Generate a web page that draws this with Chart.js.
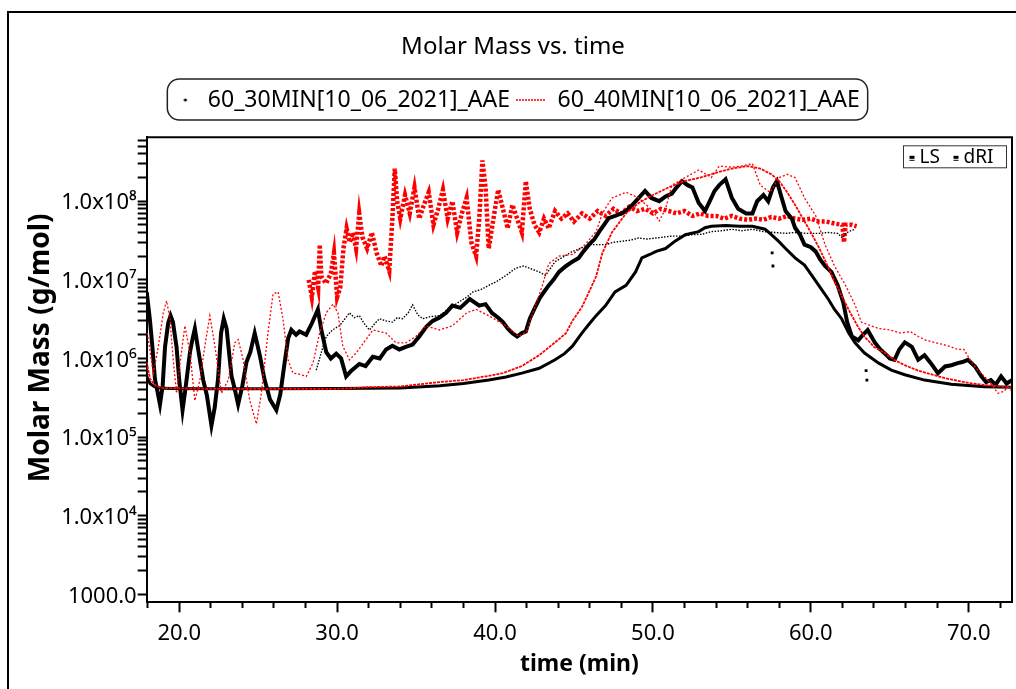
<!DOCTYPE html>
<html><head><meta charset="utf-8">
<script src="https://cdn.jsdelivr.net/npm/chart.js@4"></script>
<style>
html,body{margin:0;padding:0;background:#fff;}
canvas{display:block;}
</style></head><body>
<canvas id="c" width="1016" height="689"></canvas>
<script>
// ---------------- data ----------------
const chartTitle = 'Molar Mass vs. time';
const seriesNames = ['60_30MIN[10_06_2021]_AAE', '60_40MIN[10_06_2021]_AAE'];
const detectorNames = ['LS', 'dRI'];
const xTitle = 'time (min)';
const yTitle = 'Molar Mass (g/mol)';

const xMajorTicks = [20, 30, 40, 50, 60, 70];
const xTickLabels = ['20.0', '30.0', '40.0', '50.0', '60.0', '70.0'];
const xMinorTicks = [18, 22, 24, 26, 28, 32, 34, 36, 38, 42, 44, 46, 48, 52, 54, 56, 58, 62, 64, 66, 68, 72];
const yMajorTicks = [1e3, 1e4, 1e5, 1e6, 1e7, 1e8];
const yTickLabels = ['1000.0', '1.0x10\u2074', '1.0x10\u2075', '1.0x10\u2076', '1.0x10\u2077', '1.0x10\u2078'];
const yMinorMultipliers = [2, 3, 4, 5, 6, 7, 8, 9];

// 60_30MIN : LS (noisy, thick)
const bk30Ls = [[17.94,7.0e6],[18.05,4.5e6],[18.15,3.0e6],[18.3,1.4e6],[18.46,5.5e5],[18.62,3.8e5],[18.78,2.6e5],[18.95,4.5e5],[19.1,1.4e6],[19.3,2.8e6],[19.45,3.5e6],[19.6,2.9e6],[19.83,1.4e6],[20.0,5.3e5],[20.21,2.2e5],[20.4,4.2e5],[20.68,1.2e6],[20.85,1.8e6],[20.99,2.4e6],[21.2,1.3e6],[21.52,5.3e5],[21.75,3.4e5],[22.04,1.4e5],[22.25,2.4e5],[22.46,5.5e5],[22.65,2.1e6],[22.82,3.2e6],[23.0,2.4e6],[23.31,6.0e5],[23.5,4.2e5],[23.73,2.6e5],[24.0,4.5e5],[24.26,9.0e5],[24.5,1.2e6],[24.78,2.1e6],[25.1,1.1e6],[25.41,5.3e5],[25.75,3.0e5],[26.15,2.2e5],[26.4,3.5e5],[26.68,9.0e5],[26.9,1.8e6],[27.1,2.3e6],[27.4,2.0e6],[27.62,2.2e6],[28.04,2.0e6],[28.4,2.8e6],[28.78,4.2e6],[29.0,2.3e6],[29.31,1.2e6],[29.6,1.0e6],[29.94,1.15e6],[30.25,1.0e6],[30.57,5.9e5],[30.9,7.0e5],[31.41,8.5e5],[31.8,8.0e5],[32.26,1.05e6],[32.7,1.0e6],[33.1,1.3e6],[33.5,1.45e6],[33.94,1.3e6],[34.35,1.4e6],[34.78,1.5e6],[35.2,1.9e6],[35.63,2.5e6],[36.05,3.0e6],[36.47,3.3e6],[36.9,3.8e6],[37.3,4.7e6],[37.8,4.4e6],[38.4,5.7e6],[39.0,4.7e6],[39.4,4.9e6],[39.8,3.8e6],[40.2,3.3e6],[40.5,2.9e6],[40.8,2.4e6],[41.1,2.1e6],[41.4,1.9e6],[41.7,2.1e6],[41.95,2.2e6],[42.2,3.2e6],[42.5,4.3e6],[42.8,5.7e6],[43.1,7.0e6],[43.4,8.5e6],[43.7,1.0e7],[44.05,1.26e7],[44.5,1.5e7],[44.9,1.7e7],[45.3,1.9e7],[45.6,2.3e7],[45.95,2.8e7],[46.3,3.3e7],[46.6,4.1e7],[46.9,5.0e7],[47.2,6.1e7],[47.6,6.5e7],[48.0,7.0e7],[48.3,7.5e7],[48.7,9.0e7],[49.1,1.1e8],[49.5,1.35e8],[49.9,1.1e8],[50.4,1.0e8],[50.8,1.15e8],[51.2,1.25e8],[51.5,1.5e8],[51.84,1.8e8],[52.2,1.6e8],[52.5,1.5e8],[52.9,9.5e7],[53.3,7.5e7],[53.6,1.0e8],[53.9,1.35e8],[54.2,1.6e8],[54.6,1.9e8],[55.0,1.1e8],[55.4,8.0e7],[55.9,7.0e7],[56.3,7.0e7],[56.6,1.0e8],[57.0,1.2e8],[57.3,1.0e8],[57.6,1.5e8],[57.85,1.8e8],[58.1,1.2e8],[58.4,7.5e7],[58.8,6.0e7],[59.0,4.6e7],[59.3,3.8e7],[59.6,2.8e7],[60.0,2.6e7],[60.3,2.3e7],[60.6,1.8e7],[60.9,1.5e7],[61.3,1.26e7],[61.7,8.5e6],[62.05,5.2e6],[62.3,2.9e6],[62.6,1.9e6],[63.0,1.7e6],[63.3,2.0e6],[63.6,2.3e6],[64.05,1.6e6],[64.4,1.3e6],[64.7,1.15e6],[65.0,1.0e6],[65.3,9.6e5],[65.6,1.3e6],[65.95,1.6e6],[66.4,1.4e6],[66.8,9.6e5],[67.2,1.1e6],[67.6,8.7e5],[68.05,6.5e5],[68.5,7.9e5],[68.9,8.2e5],[69.3,8.7e5],[69.6,9.0e5],[69.95,9.6e5],[70.4,7.9e5],[70.8,5.9e5],[71.1,5.0e5],[71.4,5.3e5],[71.7,4.6e5],[72.05,5.9e5],[72.4,4.8e5],[72.74,5.3e5]];
// 60_30MIN : isolated LS points
const bk30LsStray = [[57.55,2.2e7],[57.6,1.5e7],[63.5,7.0e5],[63.55,5.3e5]];
// 60_30MIN : thin dotted trace
const bk30Thin = [[28.68,7.1e5],[29.0,1.2e6],[29.31,1.9e6],[29.7,2.3e6],[30.15,2.6e6],[30.5,3.2e6],[30.78,3.8e6],[31.1,3.3e6],[31.41,3.5e6],[31.7,2.8e6],[32.05,2.3e6],[32.4,2.8e6],[32.68,3.2e6],[33.1,3.0e6],[33.52,2.9e6],[33.8,3.3e6],[34.15,3.2e6],[34.5,3.8e6],[34.78,4.8e6],[35.1,3.6e6],[35.42,3.2e6],[35.9,3.4e6],[36.47,3.5e6],[37.0,4.2e6],[37.7,5.2e6],[38.2,6.0e6],[38.6,7.0e6],[39.1,7.5e6],[39.6,8.5e6],[40.1,9.5e6],[40.7,1.14e7],[41.3,1.4e7],[41.8,1.5e7],[42.2,1.4e7],[42.8,1.26e7],[43.2,1.14e7],[43.8,1.7e7],[44.4,2.0e7],[44.9,2.3e7],[45.4,2.5e7],[45.95,2.8e7],[46.5,2.8e7],[47.0,2.8e7],[47.5,3.0e7],[48.05,3.1e7],[48.6,3.2e7],[49.1,3.4e7],[49.6,3.3e7],[50.2,3.4e7],[50.7,3.5e7],[51.2,3.6e7],[51.8,3.6e7],[52.5,3.75e7],[53.1,3.8e7],[53.7,4.1e7],[54.3,4.2e7],[55.0,4.4e7],[55.6,4.2e7],[56.3,4.4e7],[57.0,4.1e7],[57.7,4.0e7],[58.4,3.9e7],[59.0,4.0e7],[59.7,3.9e7],[60.5,3.9e7],[61.1,4.0e7],[61.7,3.9e7],[62.0,3.4e7],[62.2,3.9e7],[62.5,4.2e7],[62.8,4.4e7]];
// 60_30MIN : smooth thick trace
const bk30Smooth = [[17.94,5.9e5],[18.15,4.8e5],[18.4,4.4e5],[18.7,4.2e5],[19.5,4.15e5],[22,4.1e5],[26,4.1e5],[30,4.15e5],[34,4.2e5],[36.5,4.5e5],[38,4.8e5],[39.6,5.3e5],[40.7,5.8e5],[41.7,6.5e5],[42.8,7.5e5],[43.8,9.6e5],[44.4,1.15e6],[44.9,1.43e6],[45.5,2.1e6],[46.0,2.8e6],[46.4,3.5e6],[47.0,4.7e6],[47.6,7.0e6],[48.3,8.5e6],[48.9,1.26e7],[49.3,1.9e7],[49.8,2.1e7],[50.2,2.3e7],[50.8,2.5e7],[51.4,3.1e7],[52.05,3.75e7],[52.9,4.1e7],[53.3,4.6e7],[53.7,4.8e7],[54.6,4.9e7],[55.5,4.8e7],[56.3,4.8e7],[57.1,4.4e7],[57.5,3.75e7],[57.95,3.1e7],[58.4,2.5e7],[59.0,1.9e7],[59.6,1.54e7],[60.06,1.14e7],[60.5,8.5e6],[61.1,5.7e6],[61.5,4.2e6],[61.95,3.2e6],[62.4,2.1e6],[62.8,1.58e6],[63.4,1.17e6],[64.3,8.7e5],[65.1,7.1e5],[65.95,6.2e5],[67.2,5.3e5],[68.9,4.7e5],[71.0,4.35e5],[72.74,4.3e5]];

// 60_40MIN : LS (noisy, thick dotted)
const rd40Ls = [[28.2,1.0e7],[28.4,6.0e6],[28.6,1.3e7],[28.8,8.0e6],[28.9,2.8e7],[29.0,1.1e7],[29.3,9.0e6],[29.6,1.2e7],[29.8,2.2e7],[30.0,6.0e6],[30.2,8.0e6],[30.4,2.5e7],[30.6,4.5e7],[30.8,3.0e7],[31.0,4.0e7],[31.2,2.5e7],[31.4,7.0e7],[31.6,3.5e7],[31.9,2.5e7],[32.2,4.0e7],[32.5,2.2e7],[32.8,1.5e7],[33.0,2.0e7],[33.3,1.3e7],[33.5,6.0e7],[33.65,2.6e8],[33.8,1.0e8],[34.0,6.0e7],[34.3,1.2e8],[34.6,7.0e7],[34.9,1.5e8],[35.2,6.0e7],[35.5,9.0e7],[35.8,1.3e8],[36.1,5.0e7],[36.4,8.0e7],[36.7,1.4e8],[37.0,6.0e7],[37.3,1.0e8],[37.6,4.0e7],[37.9,7.0e7],[38.2,1.1e8],[38.5,3.0e7],[38.8,2.0e7],[39.0,6.0e7],[39.2,3.3e8],[39.4,1.5e8],[39.6,2.5e7],[39.9,6.0e7],[40.2,1.4e8],[40.5,8.0e7],[40.8,4.5e7],[41.1,9.0e7],[41.4,6.0e7],[41.7,4.0e7],[41.95,1.8e8],[42.2,8.0e7],[42.5,5.0e7],[42.8,4.0e7],[43.1,6.0e7],[43.4,4.5e7],[43.8,7.5e7],[44.2,6.0e7],[44.6,7.0e7],[45.0,5.5e7],[45.5,7.0e7],[46.0,6.0e7],[46.5,7.5e7],[47.0,6.5e7],[47.5,8.0e7],[48.0,7.0e7],[48.5,8.5e7],[49.0,7.5e7],[49.5,8.0e7],[50.0,7.0e7],[50.5,8.0e7],[51.0,7.5e7],[51.5,7.0e7],[52.0,7.5e7],[52.5,6.5e7],[53.0,7.0e7],[53.5,6.5e7],[54.0,6.5e7],[54.5,6.0e7],[55.0,6.5e7],[55.5,6.0e7],[56.0,5.8e7],[56.5,6.0e7],[57.0,5.8e7],[57.5,6.3e7],[58.0,6.0e7],[58.5,6.5e7],[59.0,6.0e7],[59.5,5.8e7],[60.0,6.0e7],[60.5,5.5e7],[61.0,5.5e7],[61.5,5.2e7],[62.0,5.0e7],[62.1,3.0e7],[62.2,5.0e7],[62.6,5.0e7],[62.9,4.8e7]];
// 60_40MIN : thin wiggly trace
const rd40Wiggle = [[17.98,2.1e6],[18.36,6.5e5],[18.68,1.43e6],[18.99,3.8e6],[19.2,5.4e6],[19.41,3.2e6],[19.62,9.6e5],[19.83,3.6e5],[20.05,8.7e5],[20.36,2.6e6],[20.68,1.17e6],[20.99,2.9e5],[21.31,5.3e5],[21.62,1.43e6],[21.94,3.5e6],[22.26,1.43e6],[22.68,3.6e5],[23.1,5.3e5],[23.52,1.58e6],[23.73,1.74e6],[24.05,9.6e5],[24.47,2.9e5],[24.89,1.47e5],[25.2,3.6e5],[25.62,2.1e6],[25.94,6.6e6],[26.26,7.0e6],[26.57,3.2e6],[26.89,9.6e5],[27.2,6.5e5],[27.62,6.3e5],[28.04,5.9e5],[28.47,8.7e5],[28.89,2.1e6],[29.31,3.8e6],[29.73,4.9e6],[30.05,3.8e6],[30.36,1.43e6],[30.78,9.6e5],[31.2,1.17e6],[31.83,1.74e6],[32.26,2.3e6],[33.1,2.1e6],[33.73,1.58e6],[34.36,1.58e6],[34.99,1.9e6],[35.62,2.6e6],[36.47,2.3e6],[37.3,2.6e6],[38.2,3.8e6],[38.8,4.2e6],[39.6,3.5e6],[40.7,2.6e6],[41.5,1.9e6],[42.0,2.2e6],[42.4,3.8e6],[43.0,8.5e6],[43.4,1.6e7],[44.05,2.0e7],[44.9,2.1e7],[45.7,2.8e7],[46.4,4.1e7],[46.8,7.0e7],[47.4,1.1e8],[48.3,1.3e8],[49.1,1.1e8],[50.0,7.5e7],[50.4,5.6e7],[50.8,8.0e7],[51.2,1.6e8],[52.05,2.0e8],[52.9,2.5e8],[53.7,2.0e8],[54.2,2.8e8],[55.0,2.7e8],[55.6,2.8e8],[56.3,3.0e8],[56.8,1.6e8],[57.4,1.3e8],[58.0,2.0e8],[58.5,2.2e8],[59.0,2.0e8],[59.6,1.1e8],[60.3,6.6e7],[60.9,2.8e7],[61.5,1.5e7],[62.2,8.5e6],[62.8,4.8e6],[63.2,2.9e6],[63.8,2.6e6],[64.3,2.4e6],[65.0,2.3e6],[65.7,2.1e6],[66.3,2.2e6],[66.8,1.9e6],[67.3,1.7e6],[67.8,1.6e6],[68.4,1.5e6],[68.9,1.4e6],[69.3,1.3e6],[69.7,1.3e6],[70.2,8.7e5],[70.6,7.0e5],[71.0,5.9e5],[71.5,4.5e5],[71.85,3.6e5],[72.2,3.8e5],[72.5,4.3e5],[72.74,3.8e5]];
// 60_40MIN : smooth thin trace
const rd40Smooth = [[17.94,9.0e5],[18.15,5.5e5],[18.5,4.5e5],[19.0,4.2e5],[22,4.1e5],[26,4.1e5],[30,4.1e5],[32,4.3e5],[34,4.4e5],[36.47,5.0e5],[38,5.3e5],[39.6,6.0e5],[40.5,6.5e5],[41.7,8.0e5],[42.8,1.1e6],[43.8,1.6e6],[44.5,2.1e6],[44.9,3.0e6],[45.5,4.5e6],[45.95,7.0e6],[46.4,1.1e7],[46.8,2.2e7],[47.4,4.0e7],[48.3,7.0e7],[49.1,9.5e7],[50.0,1.2e8],[51.0,1.5e8],[52.0,1.8e8],[53.0,2.0e8],[54.0,2.3e8],[55.0,2.6e8],[56.0,2.8e8],[56.8,2.6e8],[57.5,2.2e8],[58.0,1.8e8],[58.5,1.3e8],[59.0,9.0e7],[59.5,6.0e7],[60.0,4.0e7],[60.5,2.6e7],[61.0,1.6e7],[61.5,9.5e6],[62.0,6.0e6],[62.5,3.8e6],[63.0,2.5e6],[63.4,1.9e6],[64.0,1.4e6],[64.7,1.17e6],[65.3,9.5e5],[65.95,8.2e5],[66.8,7.0e5],[67.6,6.3e5],[68.5,5.6e5],[69.3,5.2e5],[70.2,4.8e5],[71.0,4.6e5],[72.0,4.4e5],[72.74,4.3e5]];

// ---------------- rendering ----------------
const FONT = 'Noto Sans';
Chart.defaults.font.family = FONT;
Chart.defaults.color = '#000';

const toXY = arr => arr.map(p => ({x: p[0], y: p[1]}));
const BLACK = '#000000', RED = '#ff0000';

// legend symbols
const dotImg = document.createElement('canvas');
dotImg.width = 30; dotImg.height = 8;
(function(){const g = dotImg.getContext('2d'); g.fillStyle = BLACK; g.beginPath(); g.arc(19, 4, 1.6, 0, Math.PI*2); g.fill();})();
const lineImg = document.createElement('canvas');
lineImg.width = 30; lineImg.height = 4;
(function(){const g = lineImg.getContext('2d'); g.strokeStyle = RED; g.lineWidth = 1.3; g.setLineDash([2,1]); g.beginPath(); g.moveTo(0, 2); g.lineTo(30, 2); g.stroke();})();

const xTickObjs = xMinorTicks.concat(xMajorTicks).sort((a,b)=>a-b);
const yTickObjs = [];
yMajorTicks.forEach(d => { yTickObjs.push(d); if (d < 1e8) yMinorMultipliers.forEach(m => yTickObjs.push(d*m)); });
[2,3,4,5,6].forEach(m => yTickObjs.push(1e8*m));
yTickObjs.sort((a,b)=>a-b);

const decor = {
  id: 'decor',
  beforeDraw(chart) {
    const ctx = chart.ctx;
    ctx.save();
    ctx.fillStyle = '#fff'; ctx.fillRect(0, 0, chart.width, chart.height);
    ctx.strokeStyle = '#000'; ctx.lineWidth = 2;
    ctx.beginPath(); ctx.moveTo(8, chart.height); ctx.lineTo(8, 12); ctx.lineTo(chart.width, 12); ctx.stroke();
    ctx.restore();
  },
  afterDraw(chart) {
    const ctx = chart.ctx, a = chart.chartArea;
    ctx.save();
    // plot frame top/right
    ctx.strokeStyle = '#000'; ctx.lineWidth = 2;
    ctx.beginPath(); ctx.moveTo(a.left, a.top); ctx.lineTo(a.right, a.top); ctx.lineTo(a.right, a.bottom); ctx.stroke();
    // y axis title
    ctx.save();
    ctx.translate(41, (a.top + a.bottom) / 2 - 22);
    ctx.rotate(-Math.PI / 2);
    ctx.font = 'bold 28px "' + FONT + '"';
    ctx.textAlign = 'center'; ctx.textBaseline = 'middle'; ctx.fillStyle = '#000';
    ctx.fillText(yTitle, 0, 0);
    ctx.restore();
    // rounded legend frame
    const hb = chart.legend.legendHitBoxes;
    if (hb && hb.length) {
      const cy = hb[0].top + hb[0].height / 2;
      const l = hb[0].left + 1, r = hb[hb.length-1].left + hb[hb.length-1].width + 8;
      const t = cy - 21, b = cy + 20, rad = 12;
      ctx.lineWidth = 1.5; ctx.strokeStyle = '#222';
      ctx.beginPath();
      ctx.moveTo(l + rad, t); ctx.lineTo(r - rad, t); ctx.arcTo(r, t, r, t + rad, rad);
      ctx.lineTo(r, b - rad); ctx.arcTo(r, b, r - rad, b, rad);
      ctx.lineTo(l + rad, b); ctx.arcTo(l, b, l, b - rad, rad);
      ctx.lineTo(l, t + rad); ctx.arcTo(l, t, l + rad, t, rad);
      ctx.closePath(); ctx.stroke();
    }
    // detector key box
    const bx = a.right - 108.5, by = a.top + 8.5;
    ctx.lineWidth = 1; ctx.strokeStyle = '#333';
    ctx.strokeRect(bx, by, 103, 22);
    ctx.fillStyle = '#000';
    ctx.font = '19px "' + FONT + '"'; ctx.textBaseline = 'middle'; ctx.textAlign = 'left';
    const my = by + 11;
    [[bx + 6, bx + 16], [bx + 50, bx + 60]].forEach((p, i) => {
      ctx.fillRect(p[0], my - 1, 5, 3);
      ctx.fillRect(p[0], my + 3, 5, 1);
      ctx.fillText(detectorNames[i], p[1], my + 1);
    });
    ctx.restore();
  }
};

const chart = new Chart(document.getElementById('c'), {
  type: 'line',
  data: {
    datasets: [
      { label: seriesNames[1] + ' wiggle', data: toXY(rd40Wiggle), borderColor: RED, borderWidth: 1.3, borderDash: [2, 2], pointRadius: 0, fill: false },
      { label: seriesNames[1] + ' smooth', data: toXY(rd40Smooth), borderColor: RED, borderWidth: 1.8, borderDash: [3, 1], pointRadius: 0, fill: false },
      { label: seriesNames[0] + ' thin', data: toXY(bk30Thin), borderColor: BLACK, borderWidth: 1.4, borderDash: [1.5, 1.5], pointRadius: 0, fill: false },
      { label: seriesNames[0] + ' stray', data: toXY(bk30LsStray), showLine: false, pointStyle: 'rect', pointRadius: 2, backgroundColor: BLACK, borderColor: BLACK, borderWidth: 0 },
      { label: seriesNames[0] + ' LS', data: toXY(bk30Ls), borderColor: BLACK, borderWidth: 4, pointRadius: 0, fill: false },
      { label: seriesNames[1] + ' LS', data: toXY(rd40Ls), borderColor: RED, borderWidth: 4.5, borderDash: [3, 2], pointRadius: 0, fill: false },
      { label: seriesNames[0] + ' smooth', data: toXY(bk30Smooth), borderColor: BLACK, borderWidth: 3, pointRadius: 0, fill: false }
    ]
  },
  options: {
    responsive: false,
    animation: false,
    events: [],
    layout: { padding: { top: 0, left: 12, right: 2, bottom: 4 } },
    plugins: {
      title: { display: true, text: chartTitle, color: '#000', font: { size: 24, weight: 'normal' }, padding: { top: 33, bottom: 20.7 } },
      subtitle: { display: true, text: '', weight: 500, position: 'top', font: { size: 1, lineHeight: 1 }, padding: { top: 14.8, bottom: 0 } },
      legend: {
        display: true, position: 'top',
        labels: {
          usePointStyle: true, pointStyleWidth: 30, padding: 6, color: '#000', font: { size: 23 },
          generateLabels: () => [
            { text: seriesNames[0], pointStyle: dotImg, fillStyle: BLACK, strokeStyle: BLACK, lineWidth: 0, hidden: false, datasetIndex: 4 },
            { text: seriesNames[1], pointStyle: lineImg, fillStyle: RED, strokeStyle: RED, lineWidth: 0, hidden: false, datasetIndex: 5 }
          ]
        }
      },
      tooltip: { enabled: false }
    },
    scales: {
      x: {
        type: 'linear', position: 'bottom', min: 17.94, max: 72.74,
        afterBuildTicks: s => { s.ticks = xTickObjs.map(v => ({ value: v })); },
        afterFit: s => { s.height = 82.7; },
        ticks: {
          autoSkip: false, maxRotation: 0, minRotation: 0, padding: 8, color: '#000', font: { size: 22 },
          callback: v => { const i = xMajorTicks.indexOf(v); return i >= 0 ? xTickLabels[i] : ''; }
        },
        grid: {
          drawOnChartArea: false, drawTicks: true, tickLength: 10, tickColor: '#000', tickWidth: 2,
          tickBorderDash: c => (c.tick && xMajorTicks.indexOf(c.tick.value) >= 0) ? [] : [5, 40]
        },
        border: { display: true, color: '#000', width: 2 },
        title: { display: true, text: xTitle, color: '#000', font: { size: 23, weight: 'bold' }, padding: { top: 0, bottom: 7.2 } }
      },
      y: {
        type: 'logarithmic', position: 'left', min: 790, max: 6.5e8,
        afterBuildTicks: s => { s.ticks = yTickObjs.map(v => ({ value: v })); },
        afterFit: s => { s.width = 134.7; },
        ticks: {
          autoSkip: false, padding: 1, color: '#000', font: { size: 22 }, labelOffset: 2,
          callback: v => { const i = yMajorTicks.findIndex(d => Math.abs(d - v) / d < 1e-9); return i >= 0 ? yTickLabels[i] : ''; }
        },
        grid: { drawOnChartArea: false, drawTicks: true, tickLength: 9, tickColor: '#000', tickWidth: 2 },
        border: { display: true, color: '#000', width: 2 },
        title: { display: false, text: yTitle }
      }
    }
  },
  plugins: [decor]
});
</script>
</body></html>
